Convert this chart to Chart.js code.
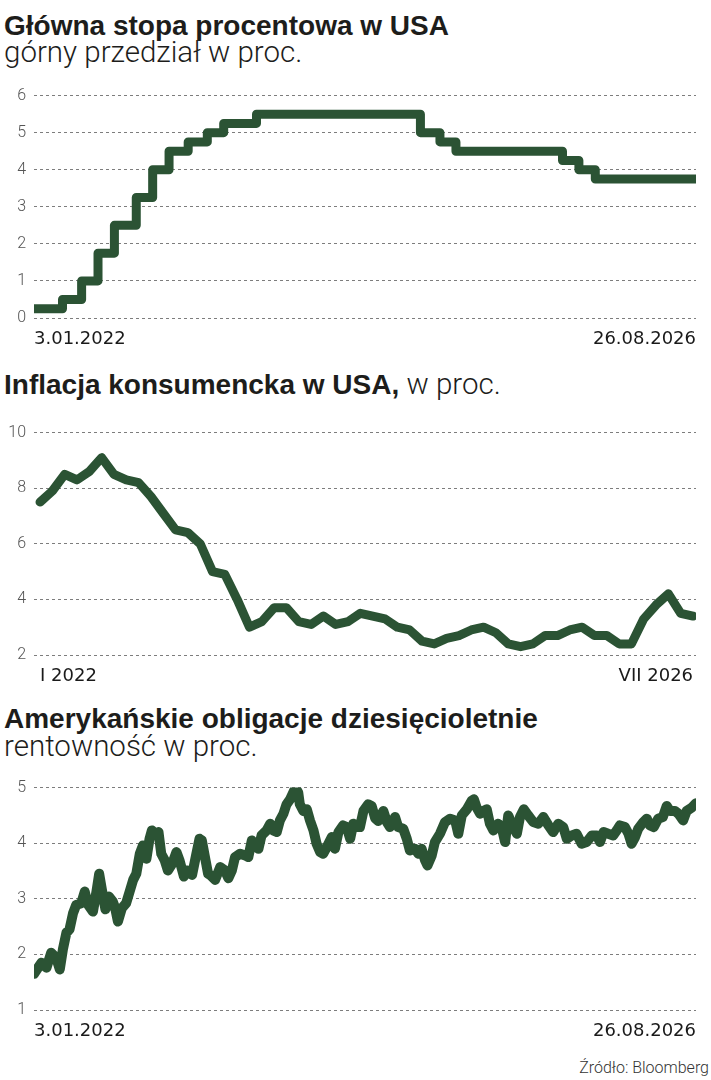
<!DOCTYPE html>
<html lang="pl">
<head>
<meta charset="utf-8">
<title>Stopy, inflacja i obligacje w USA</title>
<script src="https://cdn.jsdelivr.net/npm/chart.js@4.4.1/dist/chart.umd.min.js"></script>
<style>
  html, body { margin: 0; padding: 0; background: #fff; }
  body { width: 711px; height: 1080px; position: relative; overflow: hidden; color: #1d1d1b; }
  .t { position: absolute; left: 4px; white-space: nowrap; line-height: 1; }
  .bold { font-family: "Liberation Sans", Arial, sans-serif; font-weight: 700; font-size: 28px; }
  .light { font-family: Roboto, "Liberation Sans", sans-serif; font-weight: 300; font-size: 29.5px; }
  .src { position: absolute; right: 2px; top: 1060px; font-family: Roboto, sans-serif; font-weight: 300; font-size: 16px; line-height: 1; color: #333; }
  canvas { position: absolute; left: 0; }
</style>
</head>
<body>
<div class="t bold" style="top:12px">Główna stopa procentowa w USA</div>
<div class="t light" style="top:38px">górny przedział w proc.</div>
<canvas id="fed" width="711" height="270" style="top:78px;width:711px;height:270px"></canvas>

<div class="t bold" style="top:370px">Inflacja konsumencka w USA,<span class="light"> w proc.</span></div>
<canvas id="cpi" width="711" height="270" style="top:415px;width:711px;height:270px"></canvas>

<div class="t bold" style="top:705px">Amerykańskie obligacje dziesięcioletnie</div>
<div class="t light" style="top:732px">rentowność w proc.</div>
<canvas id="bond" width="711" height="270" style="top:770px;width:711px;height:270px"></canvas>

<div class="src">Źródło: Bloomberg</div>

<script>
// główna stopa - górna granica przedziału, daty decyzji Fed
const fedDates = ['2022-01-03', '2022-03-17', '2022-05-05', '2022-06-16', '2022-07-28', '2022-09-22',
  '2022-11-03', '2022-12-15', '2023-02-02', '2023-03-23', '2023-05-04', '2023-07-27',
  '2024-09-19', '2024-11-08', '2024-12-19', '2025-09-18', '2025-10-30', '2025-12-11', '2026-08-26'];
const fedRate = [0.25, 0.5, 1, 1.75, 2.5, 3.25, 4, 4.5, 4.75, 5, 5.25, 5.5, 5, 4.75, 4.5, 4.25, 4, 3.75, 3.75];
const fedTicks = ['3.01.2022', '26.08.2026'];

// inflacja CPI r/r, miesięcznie (brak odczytu za X 2025)
const cpiMonths = [
  'I 2022', 'II 2022', 'III 2022', 'IV 2022', 'V 2022', 'VI 2022', 'VII 2022', 'VIII 2022', 'IX 2022', 'X 2022', 'XI 2022', 'XII 2022',
  'I 2023', 'II 2023', 'III 2023', 'IV 2023', 'V 2023', 'VI 2023', 'VII 2023', 'VIII 2023', 'IX 2023', 'X 2023', 'XI 2023', 'XII 2023',
  'I 2024', 'II 2024', 'III 2024', 'IV 2024', 'V 2024', 'VI 2024', 'VII 2024', 'VIII 2024', 'IX 2024', 'X 2024', 'XI 2024', 'XII 2024',
  'I 2025', 'II 2025', 'III 2025', 'IV 2025', 'V 2025', 'VI 2025', 'VII 2025', 'VIII 2025', 'IX 2025', 'XI 2025', 'XII 2025',
  'I 2026', 'II 2026', 'III 2026', 'IV 2026', 'V 2026', 'VI 2026', 'VII 2026'];
const cpiValues = [
  7.5, 7.9, 8.5, 8.3, 8.6, 9.1, 8.5, 8.3, 8.2, 7.7, 7.1, 6.5,
  6.4, 6.0, 5.0, 4.9, 4.0, 3.0, 3.2, 3.7, 3.7, 3.2, 3.1, 3.4,
  3.1, 3.2, 3.5, 3.4, 3.3, 3.0, 2.9, 2.5, 2.4, 2.6, 2.7, 2.9,
  3.0, 2.8, 2.4, 2.3, 2.4, 2.7, 2.7, 2.9, 3.0, 2.7, 2.7,
  2.4, 2.4, 3.3, 3.8, 4.2, 3.5, 3.4];

// rentowność 10-latek, dni od 3.01.2022
const yieldStart = '2022-01-03';
const yieldDays = [0, 19, 32, 44, 57, 66, 74, 83, 91, 100, 108, 121, 130, 138, 151, 160, 167, 174, 183, 192,
  202, 208, 215, 225, 236, 245, 254, 262, 271, 279, 288, 296, 302, 311, 319, 326, 335, 343, 354, 365,
  373, 384, 393, 405, 416, 424, 430, 438, 446, 453, 464, 477, 489, 498, 507, 515, 528, 541, 549, 558,
  566, 575, 583, 596, 605, 613, 622, 630, 639, 647, 656, 664, 670, 677, 681, 690, 699, 707, 716, 724,
  733, 741, 750, 763, 771, 780, 792, 801, 810, 818, 827, 835, 844, 856, 865, 874, 882, 895, 904, 912,
  925, 933, 946, 955, 963, 976, 985, 993, 1002, 1008, 1019, 1027, 1040, 1053, 1066, 1079, 1087, 1096, 1109, 1121,
  1127, 1134, 1143, 1151, 1160, 1168, 1177, 1189, 1198, 1207, 1215, 1228, 1237, 1245, 1255, 1266, 1279, 1292, 1305, 1318,
  1330, 1343, 1356, 1365, 1378, 1390, 1403, 1416, 1429, 1442, 1450, 1459, 1471, 1484, 1493, 1501, 1514, 1523, 1531, 1540,
  1548, 1561, 1570, 1578, 1588, 1599, 1611, 1621, 1629, 1642, 1651, 1663, 1672, 1685, 1696];
const yieldValues = [1.65, 1.85, 1.76, 2.03, 1.94, 1.73, 2.09, 2.39, 2.45, 2.74, 2.89, 2.92, 3.13, 2.90, 2.77, 3.13, 3.45, 3.16, 2.81, 3.04,
  2.95, 2.83, 2.59, 2.83, 2.92, 3.13, 3.34, 3.45, 3.81, 3.96, 3.72, 4.08, 4.23, 4.17, 4.20, 3.81, 3.69, 3.51, 3.63, 3.84,
  3.69, 3.40, 3.51, 3.43, 3.81, 4.08, 4.05, 3.75, 3.45, 3.42, 3.34, 3.57, 3.51, 3.37, 3.51, 3.75, 3.81, 3.78, 3.75, 4.05,
  3.96, 3.90, 4.14, 4.23, 4.35, 4.23, 4.20, 4.41, 4.53, 4.70, 4.79, 4.91, 5.00, 4.91, 4.70, 4.58, 4.61, 4.41, 4.23, 3.99,
  3.84, 3.81, 3.93, 4.11, 3.90, 4.20, 4.32, 4.29, 4.08, 4.35, 4.29, 4.29, 4.58, 4.70, 4.67, 4.45, 4.40, 4.58, 4.38, 4.29,
  4.47, 4.29, 4.26, 4.08, 3.87, 3.90, 3.81, 3.90, 3.69, 3.60, 3.78, 4.02, 4.17, 4.38, 4.44, 4.41, 4.17, 4.50, 4.61, 4.76,
  4.79, 4.64, 4.53, 4.58, 4.61, 4.35, 4.23, 4.35, 4.29, 4.02, 4.50, 4.29, 4.17, 4.47, 4.61, 4.50, 4.38, 4.35, 4.47, 4.32,
  4.20, 4.35, 4.29, 4.08, 4.14, 4.17, 3.99, 4.02, 4.14, 4.14, 4.02, 4.20, 4.17, 4.14, 4.23, 4.32, 4.29, 4.17, 3.99, 4.11,
  4.26, 4.38, 4.44, 4.32, 4.29, 4.44, 4.47, 4.67, 4.58, 4.58, 4.53, 4.41, 4.58, 4.64, 4.72];
const yieldTicks = ['3.01.2022', '26.08.2026'];

const GREEN = '#2b5334';
const DAY = 86400000;

function dayIndex(d, start) {
  return Math.round((Date.parse(d) - Date.parse(start)) / DAY);
}

function makeChart(id, points, o) {
  new Chart(document.getElementById(id), {
    type: 'line',
    data: {
      datasets: [{
        data: points,
        borderColor: GREEN,
        borderWidth: o.width || 9,
        borderJoinStyle: 'round',
        borderCapStyle: 'round',
        pointRadius: 0,
        tension: 0,
        stepped: o.stepped || false
      }]
    },
    options: {
      responsive: false,
      animation: false,
      layout: { padding: { top: 15, right: 15, left: 0, bottom: 0 } },
      plugins: { legend: { display: false }, tooltip: { enabled: false } },
      scales: {
        x: {
          type: 'linear',
          min: o.xMin,
          max: o.xMax,
          afterBuildTicks: (s) => { s.ticks = o.xTickValues.map(v => ({ value: v })); },
          afterFit: (s) => { s.height = 30; },
          grid: { display: false },
          border: { display: false },
          ticks: {
            autoSkip: false,
            maxRotation: 0,
            align: 'inner',
            padding: 3,
            color: '#1a1a1a',
            font: { family: 'DejaVu Sans', size: 18 },
            callback: (v, i) => o.xTickLabels[i]
          }
        },
        y: {
          min: o.yMin,
          max: o.yMax,
          afterFit: (s) => { s.width = 34; },
          grid: { color: '#7d7d7d', lineWidth: 1, drawTicks: false },
          border: { display: false, dash: [3, 3] },
          ticks: {
            stepSize: o.yStep,
            padding: 8,
            color: '#555',
            font: { family: 'Roboto', weight: '300', size: 16 }
          }
        }
      }
    }
  });
}

const fedLast = dayIndex(fedDates[fedDates.length - 1], fedDates[0]);
makeChart('fed', fedDates.map((d, i) => ({ x: dayIndex(d, fedDates[0]), y: fedRate[i] })), {
  stepped: 'before',
  xMin: 0, xMax: fedLast,
  xTickValues: [0, fedLast], xTickLabels: fedTicks,
  yMin: 0, yMax: 6, yStep: 1
});

makeChart('cpi', cpiValues.map((v, i) => ({ x: i, y: v })), {
  xMin: -0.49, xMax: cpiValues.length - 1 + 0.24,
  xTickValues: [0, cpiValues.length - 1],
  xTickLabels: [cpiMonths[0], cpiMonths[cpiMonths.length - 1]],
  yMin: 2, yMax: 10, yStep: 2
});

const yieldLast = yieldDays[yieldDays.length - 1];
makeChart('bond', yieldDays.map((d, i) => ({ x: d, y: yieldValues[i] })), {
  width: 10,
  xMin: 0, xMax: yieldLast,
  xTickValues: [0, yieldLast], xTickLabels: yieldTicks,
  yMin: 1, yMax: 5, yStep: 1
});
</script>
</body>
</html>
